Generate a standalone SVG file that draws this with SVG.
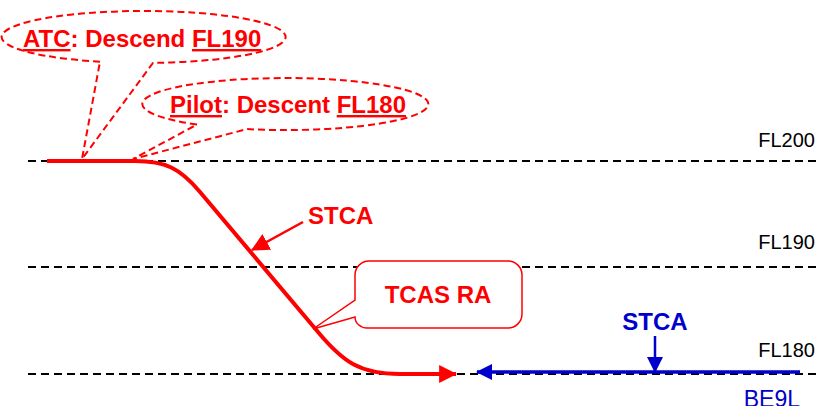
<svg xmlns="http://www.w3.org/2000/svg" width="817" height="406" viewBox="0 0 817 406">
<style>
.lvl{stroke:#000;stroke-width:2;stroke-dasharray:8,5;fill:none}
.lbl{font-family:"Liberation Sans",Arial,sans-serif;font-size:20px;fill:#000}
.rb{font-family:"Liberation Sans",Arial,sans-serif;font-size:24px;font-weight:bold;fill:#ff0000}
.bb{font-family:"Liberation Sans",Arial,sans-serif;font-size:24px;font-weight:bold;fill:#0000cc}
.co{fill:none;stroke:#ff0000;stroke-width:2;stroke-dasharray:7,4}
u{text-decoration:underline}
</style>
<defs>
<marker id="ar" markerUnits="userSpaceOnUse" markerWidth="18" markerHeight="18" viewBox="0 0 16 16" refX="15" refY="8" orient="auto">
<path d="M0,0 L16,8 L0,16 Z" fill="#ff0000"/>
</marker>
<marker id="ab" markerUnits="userSpaceOnUse" markerWidth="16" markerHeight="16" viewBox="0 0 16 16" refX="15" refY="8" orient="auto">
<path d="M0,0 L16,8 L0,16 Z" fill="#0000cc"/>
</marker>
</defs>
<rect width="817" height="406" fill="#fff"/>
<g id="levels">
<line class="lvl" x1="28" y1="161" x2="817" y2="161"/>
<line class="lvl" x1="28" y1="267" x2="817" y2="267"/>
<line class="lvl" x1="28" y1="374" x2="817" y2="374"/>
<text class="lbl" x="815" y="147" text-anchor="end">FL200</text>
<text class="lbl" x="815" y="249" text-anchor="end">FL190</text>
<text class="lbl" x="815" y="357" text-anchor="end">FL180</text>
</g>
<g id="connectors">
<path d="M47,161 L135,161 C165,161 180,168 200,192 L318,332 C343,362 360,374 400,374 L456,374" fill="none" stroke="#ff0000" stroke-width="4" marker-end="url(#ar)"/>
<line x1="303" y1="222" x2="252" y2="250" stroke="#ff0000" stroke-width="2.5" marker-end="url(#ar)"/>
<line x1="800" y1="372" x2="477" y2="372" stroke="#0000cc" stroke-width="3.5" marker-end="url(#ab)"/>
<line x1="655" y1="336" x2="655" y2="372" stroke="#0000cc" stroke-width="2.5" marker-end="url(#ab)"/>
</g>
<g id="atc">
<path class="co" d="M100,61.7 A142,26 0 1,1 153,62.9 L82,159 Z"/>
<text class="rb" x="23" y="47"><tspan text-decoration="underline">ATC</tspan>: Descend <tspan text-decoration="underline">FL190</tspan></text>
</g>
<g id="pilot">
<path class="co" d="M197,124.5 A143,26 0 1,1 247,129.1 L133,159 Z"/>
<text class="rb" x="170" y="113"><tspan text-decoration="underline">Pilot</tspan>: Descent <tspan text-decoration="underline">FL180</tspan></text>
</g>
<g id="stca-red">
<text class="rb" x="308" y="224">STCA</text>
</g>
<g id="tcas">
<path d="M369,261 H508 A14,14 0 0 1 522,275 V314 A14,14 0 0 1 508,328 H367 A12,11 0 0 1 355,317 L313,329 L355,300 V275 A14,14 0 0 1 369,261 Z" fill="#fff" stroke="#ff0000" stroke-width="1.5"/>
<text class="rb" x="438" y="303" text-anchor="middle">TCAS RA</text>
</g>
<g id="stca-blue">
<text class="bb" x="655" y="330" text-anchor="middle">STCA</text>
</g>
<g id="be9l">
<text x="800" y="407" text-anchor="end" font-family="Liberation Sans, Arial, sans-serif" font-size="23" fill="#0000cc">BE9L</text>
</g>
</svg>
